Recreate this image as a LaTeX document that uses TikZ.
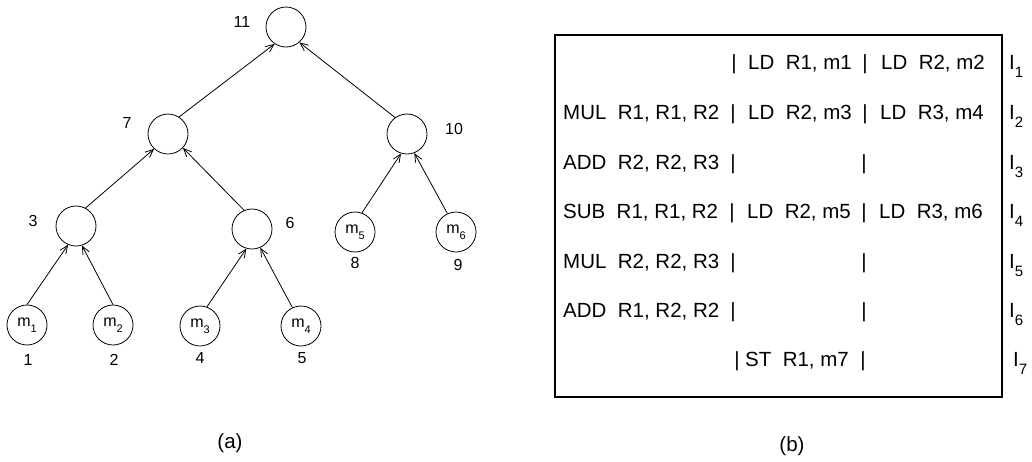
\documentclass[tikz,border=0pt]{standalone}
\usepackage{fontspec}
\setmainfont{Liberation Sans}
\usetikzlibrary{arrows.meta}

% lowered index: #1 = size, #2 = text
\newcommand{\lowidx}[2]{\raisebox{-0.4em}{\fontsize{#1}{#1}\selectfont #2}}

\begin{document}
\begin{tikzpicture}[x=1pt,y=-1pt,
  vtx/.style={circle,draw,line width=0.8pt,minimum size=40pt,inner sep=0pt,
              font=\fontsize{16}{16}\selectfont},
  num/.style={inner sep=0pt,font=\fontsize{16}{16}\selectfont},
  edge/.style={line width=0.8pt,-{Straight Barb[length=8pt,width=7pt,line width=0.8pt]}},
  row/.style={inner sep=0pt,anchor=mid west,font=\fontsize{20.5}{20.5}\selectfont},
  bar/.style={inner sep=0pt,anchor=mid,font=\fontsize{20.5}{20.5}\selectfont},
  caption/.style={inner sep=0pt,font=\fontsize{20.5}{20.5}\selectfont}]

\path[use as bounding box] (0,0) rectangle (1032,461);

% ---------- (a) expression tree ----------
\node[vtx] (n11) at (286,27) {};
\node[vtx] (n7)  at (168,134) {};
\node[vtx] (n10) at (407,134) {};
\node[vtx] (n3)  at (76,226) {};
\node[vtx] (n6)  at (252,229) {};
\node[vtx] (m5)  at (355,232) {m\lowidx{11}{5}};
\node[vtx] (m6)  at (456,232) {m\lowidx{11}{6}};
\node[vtx] (m1)  at (27,325) {m\lowidx{11}{1}};
\node[vtx] (m2)  at (113,325) {m\lowidx{11}{2}};
\node[vtx] (m3)  at (200,326) {m\lowidx{11}{3}};
\node[vtx] (m4)  at (301,326) {m\lowidx{11}{4}};

\node[num] (l11) at (242,22) {11};
\node[num] (l7)  at (127,123) {7};
\node[num] (l10) at (454,129) {10};
\node[num] (l3)  at (33,221) {3};
\node[num] (l6)  at (290,223) {6};
\node[num] (l8)  at (355,263) {8};
\node[num] (l9)  at (458,265) {9};
\node[num] (l1)  at (28,360) {1};
\node[num] (l2)  at (114,360) {2};
\node[num] (l4)  at (200,358) {4};
\node[num] (l5)  at (302,358) {5};

\draw[edge] (m1.90)  -- (n3.247);
\draw[edge] (m2.90)  -- (n3.287);
\draw[edge] (m3.70)  -- (n6.254);
\draw[edge] (m4.115) -- (n6.294);
\draw[edge] (m5.70)  -- (n10.253);
\draw[edge] (m6.115) -- (n10.291);
\draw[edge] (n3.62)  -- (n7.227);
\draw[edge] (n6.113) -- (n7.317);
\draw[edge] (n7.57)  -- (n11.236);
\draw[edge] (n10.126) -- (n11.311);

\node[caption] (capa) at (230,443) {(a)};

% ---------- (b) instruction schedule ----------
\node[draw,line width=1.6pt,minimum width=447pt,minimum height=362pt,
      inner sep=0pt,anchor=north west] (frame) at (554,34) {};

% row 1
\node[bar] (b1a) at (734,67) {|};
\node[row] (c1b) at (748,67) {LD\ \ R1, m1};
\node[bar] (b1b) at (865,67) {|};
\node[row] (c1c) at (881,67) {LD\ \ R2, m2};
% row 2
\node[row] (c2a) at (563,117) {MUL\ \ R1, R1, R2};
\node[bar] (b2a) at (733,117) {|};
\node[row] (c2b) at (748,117) {LD\ \ R2, m3};
\node[bar] (b2b) at (865,117) {|};
\node[row] (c2c) at (880,117) {LD\ \ R3, m4};
% row 3
\node[row] (c3a) at (563,167) {ADD\ \ R2, R2, R3};
\node[bar] (b3a) at (733,167) {|};
\node[bar] (b3b) at (864,167) {|};
% row 4
\node[row] (c4a) at (563,216) {SUB\ \ R1, R1, R2};
\node[bar] (b4a) at (732,216) {|};
\node[row] (c4b) at (747,216) {LD\ \ R2, m5};
\node[bar] (b4b) at (864,216) {|};
\node[row] (c4c) at (879,216) {LD\ \ R3, m6};
% row 5
\node[row] (c5a) at (563,266) {MUL\ \ R2, R2, R3};
\node[bar] (b5a) at (733,266) {|};
\node[bar] (b5b) at (864,266) {|};
% row 6
\node[row] (c6a) at (563,315) {ADD\ \ R1, R2, R2};
\node[bar] (b6a) at (733,315) {|};
\node[bar] (b6b) at (864,315) {|};
% row 7
\node[bar] (b7a) at (737,364) {|};
\node[row] (c7b) at (745,364) {ST\ \ R1, m7};
\node[bar] (b7b) at (863,364) {|};

% instruction words
\node[row] (i1) at (1009,67)  {I\lowidx{15}{1}};
\node[row] (i2) at (1009,117) {I\lowidx{15}{2}};
\node[row] (i3) at (1009,167) {I\lowidx{15}{3}};
\node[row] (i4) at (1009,216) {I\lowidx{15}{4}};
\node[row] (i5) at (1009,266) {I\lowidx{15}{5}};
\node[row] (i6) at (1009,315) {I\lowidx{15}{6}};
\node[row] (i7) at (1013,364) {I\lowidx{15}{7}};

\node[caption] (capb) at (792,446) {(b)};
\end{tikzpicture}
\end{document}
